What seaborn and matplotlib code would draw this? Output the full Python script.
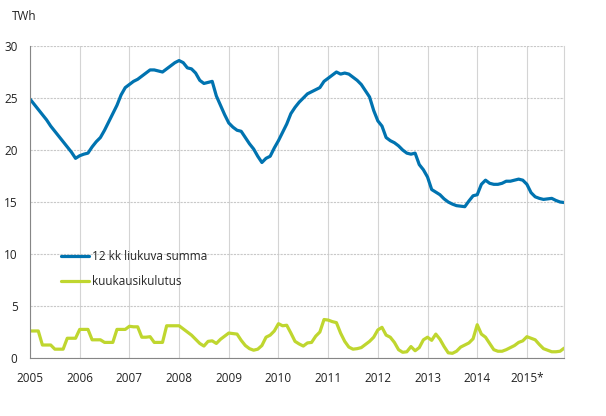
import numpy as np
import pandas as pd
import matplotlib
matplotlib.use("Agg")
import matplotlib.pyplot as plt
import seaborn as sns

# === Data (TWh), monthly Jan 2005 .. Oct 2015 ===
rolling_12m = [
    24.9, 24.4, 23.9, 23.4, 22.9, 22.3, 21.8, 21.3, 20.8, 20.3, 19.8, 19.2,
    19.45, 19.6, 19.7, 20.3, 20.8, 21.2, 21.9, 22.7, 23.5, 24.3, 25.3, 26.0,
    26.3, 26.6, 26.8, 27.1, 27.4, 27.7, 27.7, 27.6, 27.5, 27.8, 28.1, 28.4,
    28.6, 28.4, 27.9, 27.8, 27.4, 26.7, 26.4, 26.5, 26.6, 25.2, 24.3, 23.4,
    22.6, 22.2, 21.9, 21.8, 21.2, 20.6, 20.1, 19.4, 18.8, 19.2, 19.4, 20.2,
    20.9, 21.7, 22.5, 23.5, 24.1, 24.6, 25.0, 25.4, 25.6, 25.8, 26.0, 26.6,
    26.9, 27.2, 27.5, 27.3, 27.4, 27.3, 27.0, 26.7, 26.3, 25.7, 25.1, 23.8,
    22.8, 22.3, 21.2, 20.9, 20.7, 20.4, 20.0, 19.7, 19.6, 19.7, 18.6, 18.1,
    17.4, 16.2, 15.95, 15.7, 15.3, 15.0, 14.8, 14.65, 14.6, 14.55, 15.1, 15.6,
    15.7, 16.7, 17.1, 16.8, 16.7, 16.7, 16.8, 17.0, 17.0, 17.1, 17.2, 17.1,
    16.7, 15.9, 15.5, 15.35, 15.25, 15.3, 15.35, 15.15, 15.0, 14.95,
]
monthly = [
    2.6, 2.6, 2.6, 1.25, 1.25, 1.25, 0.85, 0.85, 0.85, 1.9, 1.9, 1.9,
    2.75, 2.75, 2.75, 1.75, 1.75, 1.75, 1.5, 1.5, 1.5, 2.75, 2.75, 2.75,
    3.05, 3.0, 3.0, 2.0, 2.0, 2.05, 1.5, 1.5, 1.5, 3.1, 3.1, 3.1,
    3.1, 2.8, 2.5, 2.2, 1.8, 1.4, 1.15, 1.6, 1.65, 1.4, 1.8, 2.1,
    2.4, 2.35, 2.3, 1.7, 1.2, 0.9, 0.75, 0.85, 1.2, 2.0, 2.2, 2.6,
    3.3, 3.1, 3.15, 2.4, 1.6, 1.35, 1.15, 1.45, 1.5, 2.1, 2.5, 3.7,
    3.65, 3.5, 3.4, 2.4, 1.6, 1.05, 0.85, 0.9, 1.0, 1.3, 1.6, 2.0,
    2.7, 2.95, 2.2, 2.0, 1.5, 0.8, 0.55, 0.6, 1.1, 0.7, 1.0, 1.75,
    2.0, 1.7, 2.3, 1.8, 1.1, 0.5, 0.45, 0.65, 1.05, 1.25, 1.45, 1.85,
    3.2, 2.3, 2.0, 1.4, 0.8, 0.65, 0.65, 0.8, 1.0, 1.2, 1.5, 1.65,
    2.05, 1.9, 1.75, 1.3, 0.9, 0.75, 0.6, 0.6, 0.65, 0.95,
]
year_labels = ['2005', '2006', '2007', '2008', '2009', '2010',
               '2011', '2012', '2013', '2014', '2015*']
series_names = ['12 kk liukuva summa', 'kuukausikulutus']

df = pd.DataFrame({'month': np.arange(len(rolling_12m)),
                   series_names[0]: rolling_12m,
                   series_names[1]: monthly})

# === Plot ===
sns.set_style("white")
plt.rcParams['font.family'] = ['Open Sans', 'DejaVu Sans']

fig = plt.figure(figsize=(6.06, 4.16), dpi=100)
ax = fig.add_axes([0.0495, 0.1394, 0.8815, 0.75])

sns.lineplot(data=df, x='month', y=series_names[0], ax=ax, color='#0073b0',
             linewidth=2.3, label=series_names[0])
sns.lineplot(data=df, x='month', y=series_names[1], ax=ax, color='#bfd62f',
             linewidth=2.3, label=series_names[1])

n = len(df)
ax.set_xlim(0, n - 1)
ax.set_ylim(0, 30)
ax.set_yticks(range(0, 31, 5))
ax.set_xticks(range(0, n, 12))
ax.set_xticklabels(year_labels)
ax.set_xlabel('')
ax.set_ylabel('')

# gridlines
ax.yaxis.grid(True, color='#c8c8c8', linestyle=(0, (2, 1)), linewidth=0.8)
ax.xaxis.grid(True, color='#d4d4d4', linestyle='-', linewidth=0.8)
ax.set_axisbelow(True)

ax.spines['top'].set_visible(False)
ax.spines['right'].set_color('#d4d4d4')
ax.spines['right'].set_linewidth(0.8)
ax.spines['left'].set_color('#868686')
ax.spines['left'].set_linewidth(0.8)
ax.spines['bottom'].set_color('#868686')
ax.spines['bottom'].set_linewidth(0.8)

ax.tick_params(axis='x', length=4, color='#d4d4d4', labelsize=8.5,
               labelcolor='#222222', pad=6)
ax.tick_params(axis='y', length=0, labelsize=8.5, labelcolor='#222222', pad=9)

fig.text(12 / 606, 1 - 17 / 416, 'TWh', fontsize=8.5, color='#222222',
         va='center', ha='left')

ax.legend(loc='upper left', bbox_to_anchor=(0.039, 0.38), frameon=False,
          fontsize=8.5, handlelength=2.35, labelspacing=1.05, handletextpad=0.25)

fig.savefig('out.png', dpi=100)
